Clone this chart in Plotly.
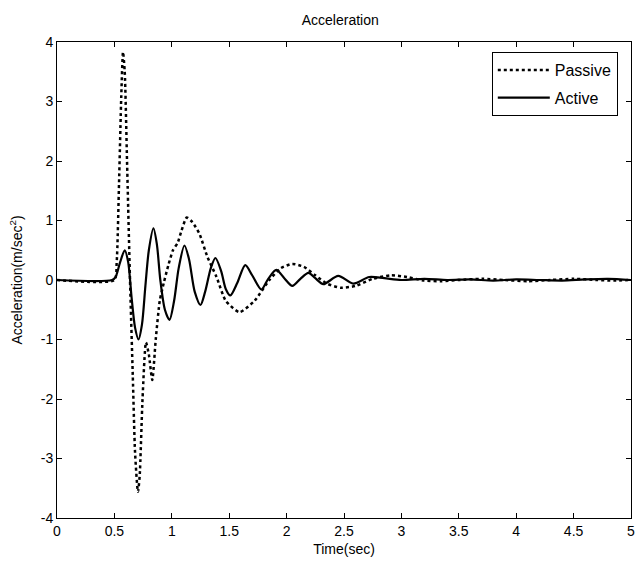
import plotly.graph_objects as go

# ---- data ----
passive_t = [0, 0.5, 0.52, 0.54, 0.56, 0.575, 0.59, 0.61, 0.636, 0.66, 0.68, 0.705,
             0.72, 0.745, 0.775, 0.80, 0.83, 0.86, 0.895, 0.93, 0.97, 1.01, 1.05,
             1.08, 1.13, 1.18, 1.24, 1.31, 1.39, 1.47, 1.59, 1.72, 1.85, 1.95, 2.05,
             2.15, 2.25, 2.35, 2.47, 2.6, 2.75, 2.91, 3.05, 3.2, 3.35, 3.5, 3.7, 3.9,
             4.1, 4.3, 4.5, 4.7, 4.85, 5.0]
passive_acc = [0, 0, 0.3, 1.6, 3.1, 3.83, 3.5, 2.0, 0.0, -1.6, -2.9, -3.56,
               -3.3, -2.0, -1.05, -1.25, -1.68, -1.0, -0.35, -0.05, 0.25, 0.5, 0.62,
               0.8, 1.05, 0.97, 0.78, 0.39, 0.05, -0.35, -0.54, -0.35, 0.0, 0.2, 0.27,
               0.22, 0.08, -0.06, -0.13, -0.1, 0.02, 0.08, 0.05, -0.01, -0.02, 0.0, 0.02, 0.0,
               -0.02, 0.0, 0.02, 0.0, -0.01, 0.0]

active_t = [0, 0.48, 0.51, 0.55, 0.59, 0.62, 0.65, 0.68, 0.71, 0.74, 0.77, 0.80,
            0.84, 0.87, 0.90, 0.94, 0.98, 1.02, 1.06, 1.11, 1.15, 1.20, 1.25, 1.29,
            1.34, 1.38, 1.43, 1.47, 1.51, 1.57, 1.64, 1.70, 1.78, 1.84, 1.91, 1.98,
            2.05, 2.12, 2.19, 2.25, 2.32, 2.45, 2.58, 2.72, 2.85, 3.0, 3.2, 3.4, 3.6,
            3.8, 4.0, 4.2, 4.4, 4.6, 4.8, 5.0]
active_acc = [0, 0, 0.05, 0.3, 0.5, 0.3, -0.3, -0.8, -1.0, -0.75, -0.1, 0.5,
              0.87, 0.6, 0.0, -0.5, -0.67, -0.35, 0.2, 0.58, 0.35, -0.2, -0.42, -0.2,
              0.2, 0.37, 0.15, -0.15, -0.26, -0.05, 0.25, 0.08, -0.16, 0.02, 0.17, 0.03,
              -0.1, 0.02, 0.12, 0.03, -0.07, 0.07, -0.06, 0.05, 0.03, 0.0, 0.02, 0.0, 0.01,
              -0.01, 0.01, 0.0, -0.01, 0.01, 0.02, 0.0]

x_ticks = [0, 0.5, 1, 1.5, 2, 2.5, 3, 3.5, 4, 4.5, 5]
y_ticks = [-4, -3, -2, -1, 0, 1, 2, 3, 4]

FONT = "Liberation Sans, Arial, sans-serif"

fig = go.Figure()
fig.add_trace(go.Scatter(
    x=passive_t, y=passive_acc, name='Passive', mode='lines', legendgroup='p',
    line=dict(color='black', width=2.5, dash='dot', shape='spline', smoothing=0.6),
))
fig.add_trace(go.Scatter(
    x=active_t, y=active_acc, name='Active', mode='lines', legendgroup='a',
    line=dict(color='black', width=2.2, shape='spline', smoothing=0.8),
))

axis_common = dict(
    showgrid=False, zeroline=False, showline=True, linecolor='black', linewidth=1,
    mirror='ticks', ticks='inside', ticklen=5, tickcolor='black', automargin=False,
    ticklabeloverflow='allow',
    tickfont=dict(size=14, color='black', family=FONT),
)

fig.update_xaxes(
    range=[0, 5], tickvals=x_ticks, ticktext=[f'{v:g}' for v in x_ticks],
    title=dict(text='Time(sec)', font=dict(size=14, color='black', family=FONT), standoff=6),
    **axis_common
)
fig.update_yaxes(
    range=[-4, 4], tickvals=y_ticks, ticktext=[str(v) for v in y_ticks],
    title=dict(text='Acceleration(m/sec<sup>2</sup>)',
               font=dict(size=14, color='black', family=FONT), standoff=14),
    **axis_common
)

fig.update_layout(
    width=636, height=565,
    margin=dict(l=57, r=5, t=42, b=47),
    paper_bgcolor='white', plot_bgcolor='white',
    title=dict(text='Acceleration', x=0.535, xanchor='center', y=0.965, yanchor='middle',
               font=dict(size=14, color='black', family=FONT)),
    font=dict(family=FONT, color='black'),
    legend=dict(
        x=0.977, y=0.979, xanchor='right', yanchor='top',
        bordercolor='black', borderwidth=1, bgcolor='white',
        font=dict(size=16, color='black', family=FONT),
        itemwidth=52, traceorder='grouped', tracegroupgap=4,
    ),
)

# drop the default body margin so the 636x565 figure fills the window
fig.write_html("out.html", config={'displayModeBar': False},
               post_script="document.body.style.margin='0';")
